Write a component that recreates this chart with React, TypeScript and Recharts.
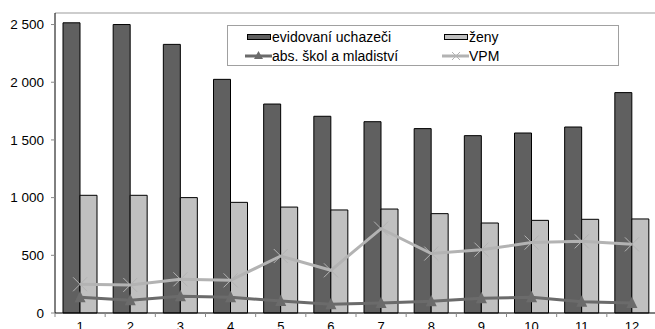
import { ComposedChart, Bar, Line, XAxis, YAxis, Legend, ReferenceLine } from "recharts";

const MESICE = ["1", "2", "3", "4", "5", "6", "7", "8", "9", "10", "11", "12"];
const UCHAZECI = [2515, 2500, 2328, 2025, 1811, 1705, 1658, 1598, 1537, 1560, 1612, 1910];
const ZENY = [1020, 1020, 1000, 959, 918, 893, 901, 861, 780, 803, 812, 815];
const ABSOLVENTI = [136, 110, 145, 136, 104, 75, 87, 101, 127, 136, 98, 87];
const VPM = [249, 243, 292, 283, 494, 370, 731, 515, 549, 610, 621, 595];
const Y_TICKS = [0, 500, 1000, 1500, 2000, 2500];

const data = MESICE.map((m, i) => ({
  mesic: m,
  uchazeci: UCHAZECI[i],
  zeny: ZENY[i],
  absolventi: ABSOLVENTI[i],
  vpm: VPM[i],
}));

const W = 660;
const H = 340;
const LEFT = 55;
const RIGHT = 3;
const BAND = (W - LEFT - RIGHT) / MESICE.length;

const FONT = '"Liberation Sans", Arial, sans-serif';
const TMAVA = "#606060";
const SVETLA = "#c0c0c0";
const CARA_ABS = "#6b6b6b";
const CARA_VPM = "#b3b3b3";

const formatCislo = (v: number) => String(v).replace(/\B(?=(\d{3})+(?!\d))/g, " ");

const XTick = ({ x, y, payload }: any) => (
  <g>
    <line x1={x - BAND / 2} x2={x - BAND / 2} y1={y} y2={y + 4} stroke="#888" />
    <text x={x} y={y + 9} dy="0.71em" textAnchor="middle" fill="#000" fontSize={13} fontFamily={FONT}>
      {payload.value}
    </text>
  </g>
);

const Trojuhelnik = ({ cx, cy }: any) => {
  if (cx == null || cy == null) return null;
  return <path d={`M${cx},${cy - 6.5} L${cx + 5.5},${cy + 5} L${cx - 5.5},${cy + 5} Z`} fill={CARA_ABS} />;
};

const Krizek = ({ cx, cy }: any) => {
  if (cx == null || cy == null) return null;
  const s = 7;
  return (
    <path d={`M${cx - s},${cy - s} L${cx + s},${cy + s} M${cx - s},${cy + s} L${cx + s},${cy - s}`} stroke={CARA_VPM} strokeWidth={1} fill="none" />
  );
};

const Legenda = () => (
  <svg width={392} height={41} style={{ display: "block" }}>
    <rect x={0.5} y={0.5} width={391} height={40} fill="#fff" stroke="#a0a0a0" />
    {/* sloupec 1 */}
    <rect x={20.5} y={9.5} width={23} height={5} fill={TMAVA} stroke="#000" />
    <text x={45} y={12} dy="0.35em" fontSize={14} fontFamily={FONT} fill="#000">evidovaní uchazeči</text>
    <line x1={18} x2={45} y1={31} y2={31} stroke={CARA_ABS} strokeWidth={3} />
    <path d="M31.5,26 L36,34 L27,34 Z" fill={CARA_ABS} />
    <text x={45} y={31} dy="0.35em" fontSize={14} fontFamily={FONT} fill="#000">abs. škol a mladiství</text>
    {/* sloupec 2 */}
    <rect x={217.5} y={9.5} width={23} height={5} fill={SVETLA} stroke="#000" />
    <text x={242} y={12} dy="0.35em" fontSize={14} fontFamily={FONT} fill="#000">ženy</text>
    <line x1={215} x2={242} y1={31} y2={31} stroke={CARA_VPM} strokeWidth={3} />
    <path d="M225,27 L233,35 M225,35 L233,27" stroke={CARA_VPM} strokeWidth={1} />
    <text x={242} y={31} dy="0.35em" fontSize={14} fontFamily={FONT} fill="#000">VPM</text>
  </svg>
);

export default function App() {
  return (
    <div style={{ position: "absolute", left: 0, top: 0, width: 655, height: 329, overflow: "hidden", background: "#fff" }}>
      <ComposedChart
        width={W}
        height={H}
        data={data}
        margin={{ top: 13, right: RIGHT, left: 0, bottom: 0 }}
        barCategoryGap={8}
        barGap={0}
      >
        <ReferenceLine y={2600} stroke="#bdbdbd" strokeWidth={1.5} />
        <XAxis
          dataKey="mesic"
          height={27}
          axisLine={{ stroke: "#000" }}
          tickLine={false}
          tickSize={0}
          tickMargin={0}
          interval={0}
          tick={<XTick />}
        />
        <YAxis
          width={LEFT}
          domain={[0, 2600]}
          ticks={Y_TICKS}
          tickFormatter={formatCislo}
          axisLine={{ stroke: "#000" }}
          tickLine={{ stroke: "#888" }}
          tickSize={4}
          tickMargin={7}
          tick={{ fill: "#000", fontSize: 13.5, fontFamily: FONT }}
        />
        <Legend
          layout="horizontal"
          verticalAlign="middle"
          align="center"
          content={() => <Legenda />}
          wrapperStyle={{ position: "absolute", left: 227, top: 25, width: 392, height: 41 }}
        />
        <Bar dataKey="uchazeci" name="evidovaní uchazeči" fill={TMAVA} stroke="#000" strokeWidth={1} isAnimationActive={false} />
        <Bar dataKey="zeny" name="ženy" fill={SVETLA} stroke="#000" strokeWidth={1} isAnimationActive={false} />
        <Line dataKey="absolventi" name="abs. škol a mladiství" stroke={CARA_ABS} strokeWidth={3} dot={<Trojuhelnik />} activeDot={false} isAnimationActive={false} />
        <Line dataKey="vpm" name="VPM" stroke={CARA_VPM} strokeWidth={3} dot={<Krizek />} activeDot={false} isAnimationActive={false} />
      </ComposedChart>
    </div>
  );
}
